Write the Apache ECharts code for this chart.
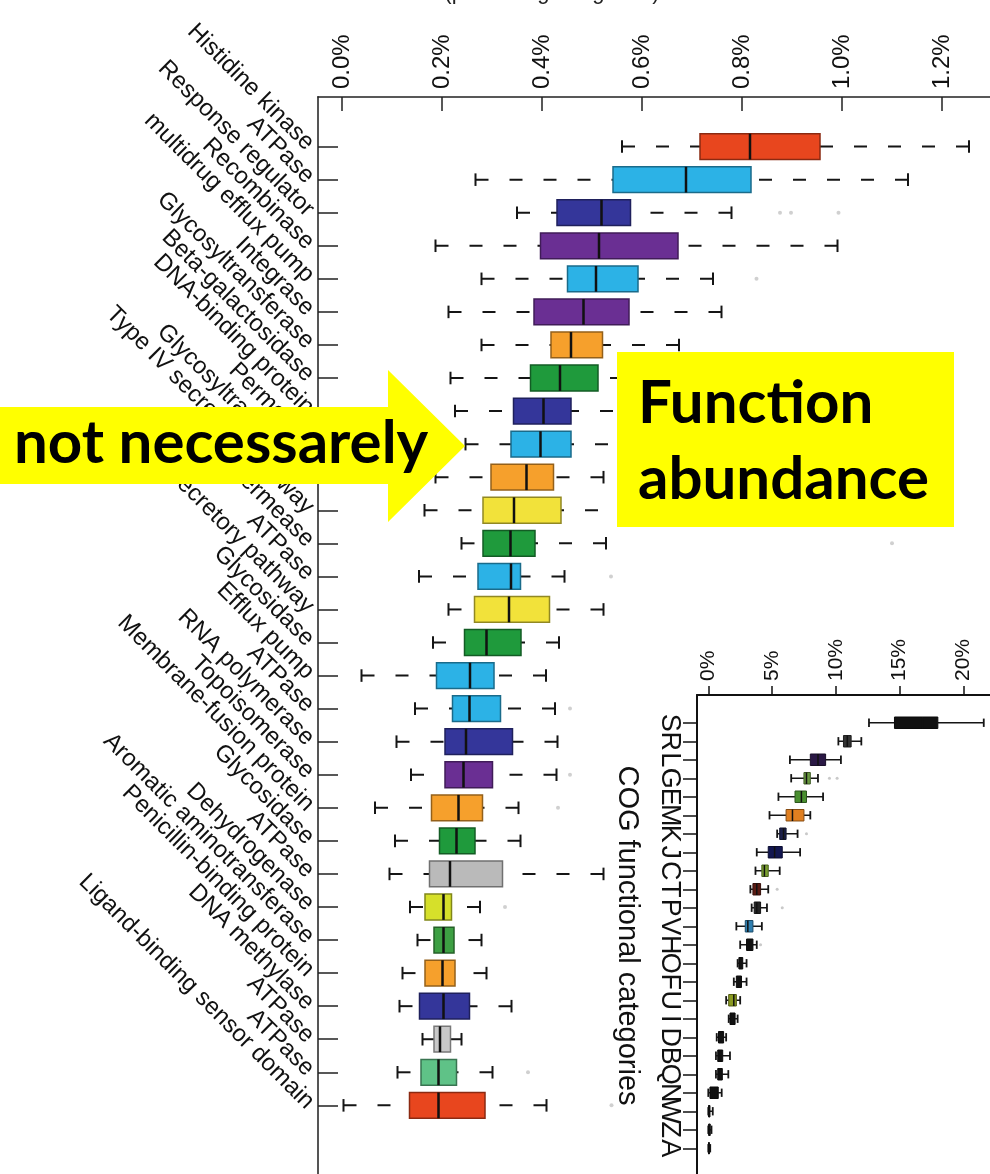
<!DOCTYPE html>
<html><head><meta charset="utf-8">
<script src="https://cdn.jsdelivr.net/npm/echarts@6.0.0/dist/echarts.min.js"></script>
<style>html,body{margin:0;padding:0;background:#fff}#c{width:990px;height:1174px}</style>
</head><body><div id="c"></div>
<script>
// ---------- main panel data (relative abundance, %) ----------
const mainLabels = ['Histidine kinase','ATPase','Response regulator','Recombinase','multidrug efflux pump','Integrase','Glycosyltransferase','Beta-galactosidase','DNA-binding protein','Permease','Glycosyltransferase','Type IV secretory pathway','Permease','ATPase','Type II secretory pathway','Glycosidase','Efflux pump','ATPase','RNA polymerase','Topoisomerase','Membrane-fusion protein','Glycosidase','ATPase','Dehydrogenase','Aromatic aminotransferase','Penicillin-binding protein','DNA methylase','ATPase','ATPase','Ligand-binding sensor domain'];
const mainLow  = [0.560,0.267,0.350,0.187,0.279,0.213,0.279,0.217,0.226,0.247,0.187,0.165,0.239,0.154,0.213,0.182,0.039,0.146,0.109,0.138,0.066,0.106,0.095,0.136,0.151,0.121,0.115,0.161,0.111,0.003];
const mainQ1   = [0.716,0.542,0.430,0.397,0.451,0.384,0.418,0.377,0.343,0.338,0.298,0.282,0.282,0.272,0.265,0.245,0.189,0.221,0.206,0.206,0.179,0.195,0.175,0.166,0.184,0.166,0.155,0.184,0.158,0.135];
const mainMed  = [0.816,0.688,0.519,0.514,0.508,0.483,0.458,0.436,0.403,0.397,0.369,0.344,0.337,0.338,0.334,0.289,0.256,0.255,0.248,0.243,0.233,0.229,0.216,0.203,0.203,0.201,0.203,0.196,0.193,0.193];
const mainQ3   = [0.956,0.818,0.577,0.672,0.592,0.574,0.521,0.512,0.458,0.458,0.423,0.438,0.386,0.357,0.415,0.358,0.304,0.317,0.341,0.301,0.281,0.266,0.321,0.219,0.224,0.226,0.255,0.217,0.229,0.286];
const mainHigh = [1.254,1.132,0.779,0.991,0.742,0.759,0.674,0.630,0.610,0.600,0.523,0.580,0.528,0.445,0.523,0.434,0.408,0.426,0.431,0.429,0.353,0.357,0.523,0.276,0.279,0.289,0.339,0.239,0.301,0.409];
const mainOutliers = [[3,0.876],[3,0.898],[3,0.993],[5,0.829],[13,1.100],[14,0.538],[18,0.456],[20,0.456],[21,0.432],[24,0.326],[29,0.372],[30,0.539]];
const mainTicks = [0,0.2,0.4,0.6,0.8,1.0,1.2];

// ---------- inset data (COG functional categories, %) ----------
const cogLabels = ['S','R','L','G','E','M','K','J','C','T','P','V','H','O','F','U','I','D','B','Q','N','W','Z','A'];
const cogLow  = [12.6,10.2,6.4,6.5,5.5,4.8,5.4,3.8,3.7,3.3,3.4,2.2,2.5,2.3,2.0,1.4,1.6,0.66,0.6,0.6,0.0,0.0,0.0,0.0];
const cogQ1   = [14.6,10.6,8.0,7.5,6.8,6.1,5.6,4.7,4.2,3.5,3.6,2.9,3.0,2.4,2.2,1.6,1.7,0.8,0.74,0.74,0.13,0.02,0.03,0.02];
const cogMed  = [16.8,10.9,8.6,7.7,7.3,6.6,5.9,5.2,4.4,3.8,3.8,3.1,3.2,2.6,2.4,2.0,1.9,1.0,0.92,0.92,0.4,0.05,0.08,0.05];
const cogQ3   = [18.0,11.2,9.2,8.0,7.7,7.5,6.1,5.8,4.7,4.1,4.1,3.5,3.5,2.7,2.6,2.2,2.1,1.2,1.13,1.1,0.78,0.13,0.15,0.08];
const cogHigh = [21.6,12.0,10.4,8.6,9.0,8.0,7.0,7.2,5.6,4.7,4.6,4.2,3.8,3.0,3.0,2.5,2.3,1.4,1.7,1.57,1.05,0.35,0.25,0.15];
const cogOutliers = [[4,9.5],[4,10.1],[7,7.7],[10,5.4],[11,5.8],[13,4.1]];
const cogTicks = [0,5,10,15,20];

// ---------- styles ----------
const RED='#e8461e', CYAN='#2cb2e6', NAVY='#34369a', PURP='#6a2f93', ORNG='#f6a02c', GREEN='#1f9a3c', YEL='#f2e23a';
const mainColors = [RED,CYAN,NAVY,PURP,CYAN,PURP,ORNG,GREEN,NAVY,CYAN,ORNG,YEL,GREEN,CYAN,YEL,GREEN,CYAN,CYAN,NAVY,PURP,ORNG,GREEN,'#bababa','#d6e02a','#3da043',ORNG,NAVY,'#c8c8c8','#5fc287',RED];
const cogColors = ['#111111','#333333','#2a1845','#6a9a40','#4a8f30','#e07f20','#1b1f4a','#121650','#7aa030','#5a1a12','#222222','#2f7fb0','#111111','#111111','#111111','#8a9a20','#111111','#111111','#111111','#111111','#111111','#111111','#111111','#111111'];

function darker(hex, f) {
  const n = parseInt(hex.slice(1), 16);
  const r = Math.round(((n >> 16) & 255) * f), g = Math.round(((n >> 8) & 255) * f), b = Math.round((n & 255) * f);
  return 'rgb(' + r + ',' + g + ',' + b + ')';
}

function boxRenderer(colors, o) {
  return function (params, api) {
    const i = params.dataIndex;
    const yv = api.value(0);
    const lo = api.coord([api.value(1), yv]);
    const q1 = api.coord([api.value(2), yv]);
    const md = api.coord([api.value(3), yv]);
    const q3 = api.coord([api.value(4), yv]);
    const hi = api.coord([api.value(5), yv]);
    const band = api.size([0, 1])[1];
    const h = band * o.boxRatio, ch = band * o.capRatio, cy = q1[1];
    const col = colors[i];
    const ws = { stroke: '#151515', lineWidth: o.whiskerWidth, lineDash: o.dash };
    const cs = { stroke: '#151515', lineWidth: o.capWidth };
    return { type: 'group', children: [
      { type: 'line', shape: { x1: lo[0], y1: cy, x2: q1[0], y2: cy }, style: ws },
      { type: 'line', shape: { x1: hi[0], y1: cy, x2: q3[0], y2: cy }, style: ws },
      { type: 'line', shape: { x1: lo[0], y1: cy - ch / 2, x2: lo[0], y2: cy + ch / 2 }, style: cs },
      { type: 'line', shape: { x1: hi[0], y1: cy - ch / 2, x2: hi[0], y2: cy + ch / 2 }, style: cs },
      { type: 'rect', shape: { x: q1[0], y: cy - h / 2, width: q3[0] - q1[0], height: h }, style: { fill: col, stroke: darker(col, 0.6), lineWidth: o.borderWidth } },
      { type: 'line', shape: { x1: md[0], y1: cy - h / 2, x2: md[0], y2: cy + h / 2 }, style: { stroke: '#111', lineWidth: o.medianWidth } }
    ]};
  };
}

const FONT = "'Liberation Sans', Arial, sans-serif";
// category slots: one empty slot above the first row, empty slots below the last row
const mainSlots = ['pad0'].concat(mainLabels.map((_, i) => String(i + 1)), ['pad1', 'pad2']);
const cogSlots = ['pad0'].concat(cogLabels.map((_, i) => String(i + 1)), ['pad1']);
const isRow = v => !isNaN(+v);

const chart = echarts.init(document.getElementById('c'), null, { renderer: 'canvas' });
chart.setOption({
  animation: false,
  backgroundColor: '#fff',
  textStyle: { fontFamily: FONT },
  grid: [
    { left: 318, top: 97, right: 0, bottom: -14, containLabel: false, outerBoundsMode: 'none' },
    { left: 697, top: 695, right: 0, bottom: -2, containLabel: false, outerBoundsMode: 'none', show: true, backgroundColor: '#fff', borderWidth: 0, z: 5 }
  ],
  xAxis: [
    { type: 'value', gridIndex: 0, position: 'top', min: -0.048, max: 1.296,
      axisLine: { show: true, onZero: false, lineStyle: { color: '#222', width: 1.5 } },
      axisTick: { show: true, inside: true, length: 14, customValues: mainTicks, lineStyle: { color: '#222', width: 1.5 } },
      axisLabel: { customValues: mainTicks, rotate: -90, margin: 8, fontSize: 24, color: '#111', fontFamily: FONT, showMinLabel: true, showMaxLabel: true, formatter: v => v.toFixed(1) + '%' },
      splitLine: { show: false } },
    { type: 'value', gridIndex: 1, position: 'top', min: -0.886, max: 22.09, z: 6,
      axisLine: { show: true, onZero: false, lineStyle: { color: '#111', width: 2 } },
      axisTick: { show: true, length: 9, customValues: cogTicks, lineStyle: { color: '#111', width: 1.5 } },
      axisLabel: { customValues: cogTicks, rotate: -90, margin: 14, fontSize: 21, color: '#111', fontFamily: FONT, showMinLabel: true, showMaxLabel: true, formatter: v => v + '%' },
      splitLine: { show: false } }
  ],
  yAxis: [
    { type: 'category', gridIndex: 0, inverse: true, data: mainSlots, boundaryGap: true,
      axisLine: { show: true, onZero: false, lineStyle: { color: '#555', width: 2 } },
      axisTick: { show: true, inside: true, length: 20, alignWithLabel: true, interval: (idx, v) => isRow(v), lineStyle: { color: '#222', width: 1.5 } },
      axisLabel: { interval: 0, rotate: -45, margin: 8, fontSize: 24, color: '#111', fontFamily: FONT, formatter: v => isRow(v) ? mainLabels[+v - 1] : '' },
      splitLine: { show: false } },
    { type: 'category', gridIndex: 1, inverse: true, data: cogSlots, boundaryGap: true, z: 6,
      name: 'COG functional categories', nameLocation: 'middle', nameRotate: -90, nameGap: 56,
      nameTextStyle: { fontSize: 29, color: '#111', fontFamily: FONT },
      axisLine: { show: true, onZero: false, lineStyle: { color: '#111', width: 2 } },
      axisTick: { show: true, length: 14, alignWithLabel: true, interval: (idx, v) => isRow(v), lineStyle: { color: '#111', width: 1.5 } },
      axisLabel: { interval: 0, rotate: -90, margin: 14, fontSize: 27, color: '#111', fontFamily: FONT, formatter: v => isRow(v) ? cogLabels[+v - 1] : '' },
      splitLine: { show: false } }
  ],
  series: [
    { type: 'custom', name: 'functions', xAxisIndex: 0, yAxisIndex: 0, z: 2,
      encode: { x: [1, 2, 3, 4, 5], y: 0 },
      renderItem: boxRenderer(mainColors, { boxRatio: 0.78, capRatio: 0.38, whiskerWidth: 2, capWidth: 2, dash: [13, 21], borderWidth: 1.5, medianWidth: 2.5 }),
      data: mainLabels.map((_, i) => [i + 1, mainLow[i], mainQ1[i], mainMed[i], mainQ3[i], mainHigh[i]]) },
    { type: 'scatter', name: 'outliers', xAxisIndex: 0, yAxisIndex: 0, symbolSize: 4, z: 2,
      itemStyle: { color: '#c4c4c4' }, encode: { x: 1, y: 0 },
      data: mainOutliers.map(p => [p[0], p[1]]) },
    { type: 'custom', name: 'cog', xAxisIndex: 1, yAxisIndex: 1, z: 7,
      encode: { x: [1, 2, 3, 4, 5], y: 0 },
      renderItem: boxRenderer(cogColors, { boxRatio: 0.62, capRatio: 0.45, whiskerWidth: 1.5, capWidth: 1.8, dash: null, borderWidth: 1, medianWidth: 1.5 }),
      data: cogLabels.map((_, i) => [i + 1, cogLow[i], cogQ1[i], cogMed[i], cogQ3[i], cogHigh[i]]) },
    { type: 'scatter', name: 'cog outliers', xAxisIndex: 1, yAxisIndex: 1, symbolSize: 3, z: 7,
      itemStyle: { color: '#bbb' }, encode: { x: 1, y: 0 },
      data: cogOutliers.map(p => [p[0], p[1]]) }
  ],
  graphic: [
    { type: 'text', z: 50, style: { text: '(percentage of genes)', x: 552, y: 4, textAlign: 'center', textVerticalAlign: 'bottom', font: "22px 'Liberation Sans', Arial, sans-serif", fill: '#222' } },
    { type: 'polygon', z: 100, shape: { points: [[0, 407], [388, 407], [388, 370], [465, 446], [388, 522], [388, 484], [0, 484]] }, style: { fill: '#ffff00' } },
    { type: 'text', z: 101, style: { text: 'not necessarely', x: 14, y: 444, textVerticalAlign: 'middle', font: "bold 60px Lato, 'Open Sans', sans-serif", fill: '#000' } },
    { type: 'rect', z: 100, shape: { x: 617, y: 352, width: 337, height: 175 }, style: { fill: '#ffff00' } },
    { type: 'text', z: 101, style: { text: 'Function', x: 638, y: 404, textVerticalAlign: 'middle', font: "bold 60px Lato, 'Open Sans', sans-serif", fill: '#000' } },
    { type: 'text', z: 101, style: { text: 'abundance', x: 638, y: 480, textVerticalAlign: 'middle', font: "bold 60px Lato, 'Open Sans', sans-serif", fill: '#000' } }
  ]
});
</script>
</body></html>
